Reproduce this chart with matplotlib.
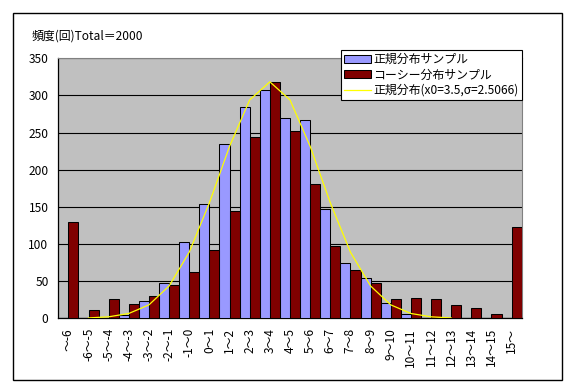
import matplotlib
matplotlib.use("Agg")
import matplotlib.pyplot as plt
from matplotlib.patches import Rectangle
import numpy as np

plt.rcParams['font.family'] = ['Noto Sans CJK JP', 'DejaVu Sans']

categories = ["～-6", "-6～-5", "-5～-4", "-4～-3", "-3～-2", "-2～-1", "-1～0", "0～1",
              "1～2", "2～3", "3～4", "4～5", "5～6", "6～7", "7～8", "8～9", "9～10",
              "10～11", "11～12", "12～13", "13～14", "14～15", "15～"]
normal_sample = [0, 0, 1, 5, 23, 47, 103, 154, 235, 284, 307, 270, 267, 147, 75, 54, 20,
                 6, 1, 1, 0, 0, 0]
cauchy_sample = [130, 11, 26, 19, 30, 45, 62, 92, 145, 244, 318, 252, 181, 97, 65, 47, 26,
                 28, 26, 18, 14, 6, 123]
# normal curve values at category centres -6~-5 ... 12~13
curve_start = 1
curve_values = [0.5, 2.0, 6.5, 18.1, 43.5, 89.1, 155.5, 231.5, 294.0, 318.3, 294.0,
                231.5, 155.5, 89.1, 43.5, 18.1, 6.5, 2.0, 0.5]
yticks = [0, 50, 100, 150, 200, 250, 300, 350]
title_text = "頻度(回)Total＝2000"
legend_labels = ["正規分布サンプル", "コーシー分布サンプル", "正規分布(x0=3.5,σ=2.5066)"]

W, H = 574, 391
fig = plt.figure(figsize=(W / 100, H / 100), dpi=100)
fig.patch.set_facecolor('white')

ax = fig.add_axes([58.3 / W, 1 - 318.3 / H, (521.7 - 58.3) / W, (318.3 - 58.3) / H])
ax.set_facecolor('#C0C0C0')

x = np.arange(len(categories))
b1 = ax.bar(x - 0.25, normal_sample, width=0.5, color='#9999FF', edgecolor='black',
            linewidth=0.75, zorder=3)
b2 = ax.bar(x + 0.25, cauchy_sample, width=0.5, color='#800000', edgecolor='black',
            linewidth=0.75, zorder=3)
xc = np.arange(curve_start, curve_start + len(curve_values))
ln, = ax.plot(xc, curve_values, color='#FFFF00', linewidth=0.9, zorder=4)

ax.set_xlim(-0.5, len(categories) - 0.5)
ax.set_ylim(0, 350)
ax.set_yticks(yticks)
ax.set_yticklabels([str(v) for v in yticks], fontsize=8.6)
ax.yaxis.grid(True, color='black', linewidth=0.8, zorder=1)
ax.set_axisbelow(True)
ax.set_xticks(x)
ax.set_xticklabels(categories, rotation=90, fontsize=8.6, va='top', ha='center')
ax.tick_params(axis='both', length=0)
ax.tick_params(axis='y', pad=7)
ax.tick_params(axis='x', pad=7)
for s in ['top', 'right']:
    ax.spines[s].set_color('#808080')
    ax.spines[s].set_linewidth(0.8)
for s in ['left', 'bottom']:
    ax.spines[s].set_color('black')
    ax.spines[s].set_linewidth(0.9)

fig.text(32 / W, 1 - 36 / H, title_text, fontsize=8.6, va='center', ha='left')

leg = ax.legend([b1, b2, ln], legend_labels, loc='upper right',
                bbox_to_anchor=(521.5 / W, 1 - 50 / H), bbox_transform=fig.transFigure,
                fontsize=8.6, frameon=True, fancybox=False, shadow=False,
                borderpad=0.25, labelspacing=0.2, handlelength=2.3, handleheight=0.6,
                handletextpad=0.15, borderaxespad=0)
leg.get_frame().set_edgecolor('black')
leg.get_frame().set_linewidth(0.8)
leg.get_frame().set_facecolor('white')
leg.get_frame().set_alpha(1)
leg.set_zorder(10)

fig.patches.append(Rectangle((13 / W, 1 - 380 / H), 549 / W, 367 / H,
                             transform=fig.transFigure, fill=False,
                             edgecolor='black', linewidth=1.0))

fig.savefig('out.png', dpi=100)
